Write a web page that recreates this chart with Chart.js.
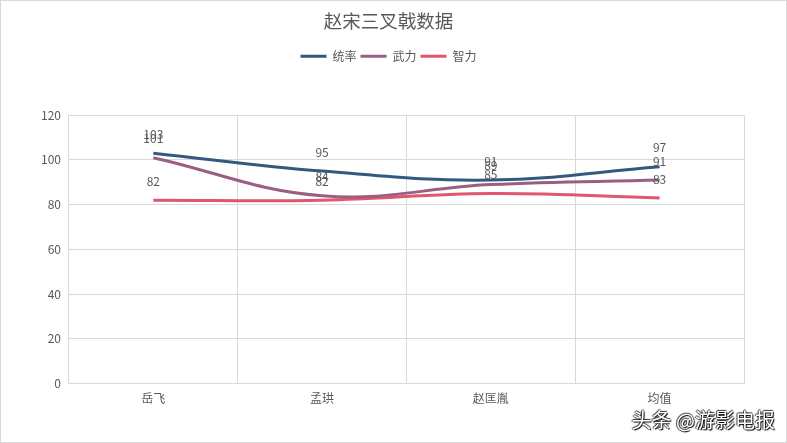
<!DOCTYPE html>
<html>
<head>
<meta charset="utf-8">
<script src="https://cdn.jsdelivr.net/npm/chart.js@4"></script>
<style>
  html, body { margin:0; padding:0; background:#fff; }
  #wrap { position:relative; width:787px; height:443px; box-sizing:border-box; border:1px solid #d9d9d9; }
  #c { position:absolute; left:0; top:0; }
  #mark { position:absolute; right:11px; bottom:8px; font:20px "Noto Sans CJK SC", sans-serif; color:#fff;
          text-shadow: 1px 1px 1px #000, -1px 0 1px #333, 0 -1px 1px #333; }
</style>
</head>
<body>
<div id="wrap">
  <canvas id="c" width="785" height="441"></canvas>
  <div id="mark">头条 @游影电报</div>
</div>
<script>
// 数据
const categories = ['岳飞', '孟珙', '赵匡胤', '均值']
const tongshuai = [103, 95, 91, 97]
const wuli = [101, 84, 89, 91]
const zhili = [82, 82, 85, 83]
const yTicks = [0, 20, 40, 60, 80, 100, 120]

const FONT = '"Microsoft YaHei", "Noto Sans CJK SC", sans-serif'
const TXT = '#595959'
const GRID = '#d9d9d9'

// 数据标签：点上方
const pointLabels = {
  id: 'pointLabels',
  afterDatasetsDraw(chart) {
    const ctx = chart.ctx
    ctx.save()
    ctx.font = '12px ' + FONT
    ctx.fillStyle = TXT
    ctx.textAlign = 'center'
    ctx.textBaseline = 'middle'
    chart.data.datasets.forEach((ds, i) => {
      chart.getDatasetMeta(i).data.forEach((pt, j) => {
        ctx.fillText(String(ds.data[j]), pt.x, pt.y - 19)
      })
    })
    ctx.restore()
  }
}

// 图例下方留白
const legendGap = {
  id: 'legendGap',
  beforeInit(chart) {
    const fit = chart.legend.fit
    chart.legend.fit = function () { fit.call(this); this.height += 43 }
  }
}

const mk = (label, data, color) => ({
  label, data,
  borderColor: color, backgroundColor: color,
  borderWidth: 3, pointRadius: 0, pointHoverRadius: 0,
  tension: 0.4, fill: false
})

new Chart(document.getElementById('c').getContext('2d'), {
  type: 'line',
  data: {
    labels: categories,
    datasets: [
      mk('统率', tongshuai, '#325a80'),
      mk('武力', wuli, '#9a5f80'),
      mk('智力', zhili, '#e0566e')
    ]
  },
  options: {
    responsive: false,
    animation: false,
    layout: { padding: { top: 8, left: 32, right: 42, bottom: 28 } },
    plugins: {
      title: {
        display: true, text: '赵宋三叉戟数据', color: TXT,
        font: { family: FONT, size: 18.5, weight: 'normal' },
        padding: { top: 1, bottom: 14 }
      },
      legend: {
        display: true, position: 'top',
        labels: {
          color: TXT, font: { family: FONT, size: 12 },
          usePointStyle: true, pointStyle: 'line', pointStyleWidth: 26, boxHeight: 12,
          padding: 4
        }
      },
      tooltip: { enabled: false }
    },
    scales: {
      x: {
        offset: true,
        grid: { offset: true, color: GRID, drawTicks: false },
        border: { color: GRID },
        ticks: { color: TXT, font: { family: FONT, size: 12 }, padding: 8 }
      },
      y: {
        min: 0, max: 120,
        afterBuildTicks: s => { s.ticks = yTicks.map(v => ({ value: v })) },
        grid: { color: GRID, drawTicks: false },
        border: { display: false },
        ticks: { color: TXT, font: { family: FONT, size: 12 }, padding: 8 }
      }
    }
  },
  plugins: [pointLabels, legendGap]
})
</script>
</body>
</html>
